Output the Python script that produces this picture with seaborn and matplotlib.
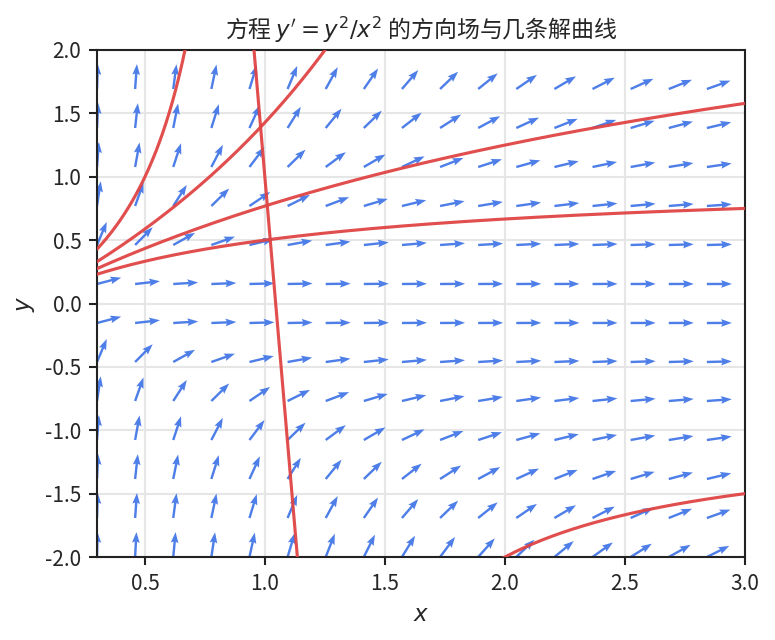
import numpy as np
import pandas as pd
import matplotlib
matplotlib.use("Agg")
import matplotlib.pyplot as plt
import seaborn as sns

# ---- data ----
x_grid = np.linspace(0.3, 3.0, 18)       # direction-field columns
y_grid = np.linspace(-2.0, 2.0, 14)      # direction-field rows
solution_C = [1.0, 0.3, -0.3, -1.0]      # y = x / (1 - C x)
steep_x = [0.909, 1.180]                 # near-vertical red line
steep_y = [3.0, -3.0]
xticks = [0.5, 1.0, 1.5, 2.0, 2.5, 3.0]
yticks = [-2.0, -1.5, -1.0, -0.5, 0.0, 0.5, 1.0, 1.5, 2.0]
title = "方程 $y' = y^2/x^2$ 的方向场与几条解曲线"

sns.set_style("ticks")
plt.rcParams["font.family"] = ["Noto Sans CJK SC", "DejaVu Sans"]
plt.rcParams["axes.unicode_minus"] = False
plt.rcParams["mathtext.fontset"] = "dejavusans"

DPI = 150
fig = plt.figure(figsize=(776 / DPI, 640 / DPI), dpi=DPI)
ax = fig.add_axes([97 / 776, 83 / 640, 648 / 776, 507 / 640])

# direction field
X, Y = np.meshgrid(x_grid, y_grid)
S = Y ** 2 / X ** 2
N = np.sqrt(1 + S ** 2)
U, V = 1 / N, S / N
ax.quiver(X, Y, U, V, color="#3f73e6", alpha=0.92, pivot="tail",
          scale_units="inches", scale=6.0, width=0.0037,
          headwidth=3.2, headlength=4.5, headaxislength=4.0, zorder=2)

# solution curves
rows = []
xs = np.linspace(0.3, 3.0, 800)
for i, C in enumerate(solution_C):
    den = 1 - C * xs
    ys = np.where(den > 0, xs / np.where(den == 0, 1, den), np.nan)
    for xv, yv in zip(xs, ys):
        rows.append({"x": xv, "y": yv, "curve": f"c{i}a"})
    ys2 = np.where(den < 0, xs / np.where(den == 0, 1, den), np.nan)
    if np.any(~np.isnan(ys2)):
        for xv, yv in zip(xs, ys2):
            rows.append({"x": xv, "y": yv, "curve": f"c{i}b"})
df = pd.DataFrame(rows)
df = df[np.abs(df["y"]) < 6]
for name, g in df.groupby("curve"):
    sns.lineplot(data=g, x="x", y="y", ax=ax, color="#e04444", lw=1.5,
                 alpha=0.95, sort=False, estimator=None, zorder=3)
sns.lineplot(x=steep_x, y=steep_y, ax=ax, color="#e04444", lw=1.5,
             alpha=0.95, sort=False, estimator=None, zorder=3)

ax.set_xlim(0.3, 3.0)
ax.set_ylim(-2.0, 2.0)
ax.set_xticks(xticks)
ax.set_yticks(yticks)
ax.set_xticklabels([f"{t:.1f}" for t in xticks])
ax.set_yticklabels([f"{t:.1f}" for t in yticks])
ax.tick_params(labelsize=10, width=1.0, length=4, color="#222222")
ax.grid(True, color="#e6e6e6", lw=1.0, zorder=0)
ax.set_axisbelow(True)
for s in ax.spines.values():
    s.set_visible(True)
    s.set_color("#222222")
    s.set_linewidth(1.0)
ax.set_xlabel("$x$", fontsize=11)
ax.set_ylabel("$y$", fontsize=11)
ax.set_title(title, fontsize=11)

fig.savefig("out.png", dpi=DPI)
